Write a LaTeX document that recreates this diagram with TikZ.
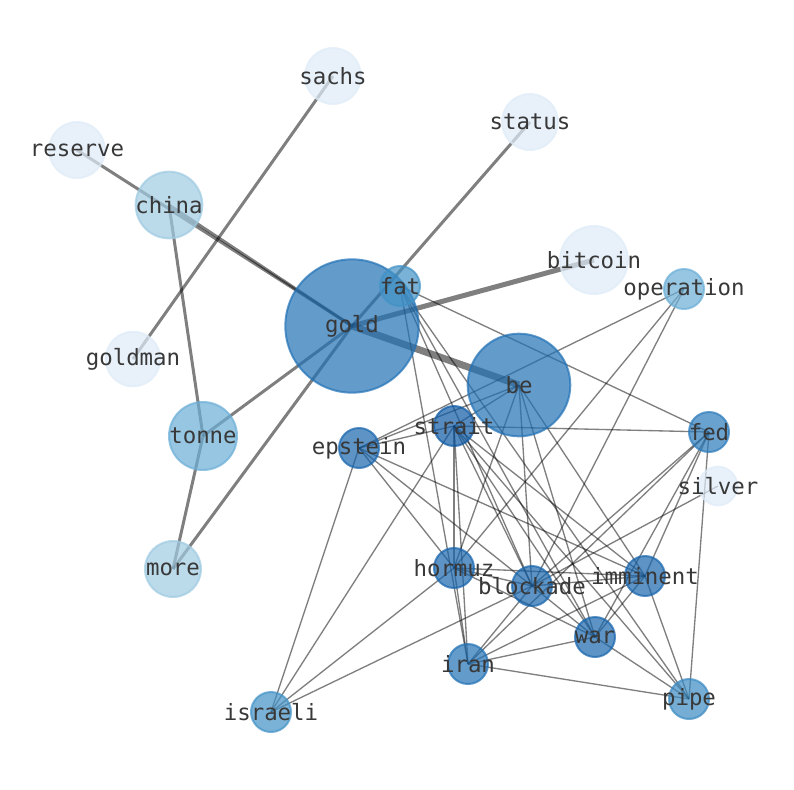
\documentclass[tikz,border=0pt]{standalone}
\usepackage{fontspec}
\setmonofont{DejaVu Sans Mono}
\usepackage{xcolor}
\usepackage{tikz}
\usetikzlibrary{backgrounds}

\definecolor{bluevl}{HTML}{DEEBF7}
\definecolor{bluel}{HTML}{9ECAE1}
\definecolor{bluem}{HTML}{6BAED6}
\definecolor{bluemd}{HTML}{4292C6}
\definecolor{bluepipe}{HTML}{3A8AC2}
\definecolor{bluefed}{HTML}{2B7BBB}
\definecolor{blued}{HTML}{2171B5}
\definecolor{bluedk}{HTML}{1865AD}
\definecolor{bluedd}{HTML}{0E5AA5}
\definecolor{labelgray}{HTML}{383838}

\begin{document}
\begin{tikzpicture}[x=0.75pt, y=-0.75pt,
    word/.style={circle, inner sep=0pt, draw=#1, fill=#1, fill opacity=0.7, draw opacity=0.7, line width=1.5pt},
    every label/.style={font=\ttfamily\fontsize{16.8}{16.8}\selectfont, text=labelgray, opacity=1, inner sep=0pt},
    tie/.style={draw=black, draw opacity=0.5, line width=1pt},
    bond/.style={draw=black, draw opacity=0.5, line width=2.25pt}]
    \useasboundingbox (0,0) rectangle (794,790);

    % outer words
    \node[word=bluevl, minimum size=42pt, label=center:sachs] (sachs) at (333,76) {};
    \node[word=bluevl, minimum size=42pt, label=center:status] (status) at (530,122) {};
    \node[word=bluevl, minimum size=42pt, label=center:reserve] (reserve) at (77,150) {};
    \node[word=bluel, minimum size=50pt, label=center:china] (china) at (169,205) {};
    \node[word=bluevl, minimum size=51pt, label=center:bitcoin] (bitcoin) at (594,260) {};
    \node[word=bluevl, minimum size=41pt, label=center:goldman] (goldman) at (133,359) {};
    \node[word=bluem, minimum size=51pt, label=center:tonne] (tonne) at (203,436) {};
    \node[word=bluel, minimum size=42pt, label=center:more] (more) at (173,569) {};
    \node[word=bluevl, minimum size=29pt, label=center:silver] (silver) at (718,486) {};

    % big words
    \node[word=blued, minimum size=100pt, label=center:gold] (gold) at (352,326) {};
    \node[word=blued, minimum size=77pt, label=center:be] (be) at (519,385) {};
    \node[word=bluemd, minimum size=30pt, label=center:fat] (fat) at (400,286) {};
    \node[word=bluem, minimum size=30pt, label=center:operation] (operation) at (684,289) {};

    % lower cluster
    \node[word=bluedd, minimum size=30pt, label=center:strait] (strait) at (454,426) {};
    \node[word=bluedk, minimum size=30pt, label=center:epstein] (epstein) at (359,448) {};
    \node[word=bluefed, minimum size=30pt, label=center:fed] (fed) at (709,432) {};
    \node[word=bluedk, minimum size=30pt, label=center:hormuz] (hormuz) at (454,568) {};
    \node[word=bluedk, minimum size=30pt, label=center:blockade] (blockade) at (532,586) {};
    \node[word=bluedk, minimum size=30pt, label=center:imminent] (imminent) at (645,576) {};
    \node[word=bluedk, minimum size=30pt, label=center:war] (war) at (595,637) {};
    \node[word=blued, minimum size=30pt, label=center:iran] (iran) at (468,664) {};
    \node[word=bluemd, minimum size=30pt, label=center:israeli] (israeli) at (271,712) {};
    \node[word=bluepipe, minimum size=30pt, label=center:pipe] (pipe) at (689,699) {};

    \begin{scope}[on background layer]
    % heavy ties
    \draw[bond] (sachs.center) -- (goldman.center);
    \draw[bond] (status.center) -- (gold.center);
    \draw[bond] (reserve.center) -- (gold.center);
    \draw[bond] (china.center) -- (gold.center);
    \draw[bond] (china.center) -- (tonne.center);
    \draw[bond] (tonne.center) -- (more.center);
    \draw[bond] (tonne.center) -- (gold.center);
    \draw[bond] (more.center) -- (gold.center);
    \draw[bond, line width=3.75pt] (gold.center) -- (bitcoin.center);
    \draw[bond, line width=5.25pt] (gold.center) -- (be.center);

    % light ties
    \draw[tie] (fat.center) -- (fed.center);
    \draw[tie] (fat.center) -- (iran.center);
    \draw[tie] (fat.center) -- (blockade.center);
    \draw[tie] (fat.center) -- (war.center);
    \draw[tie] (fat.center) -- (pipe.center);
    \draw[tie] (operation.center) -- (epstein.center);
    \draw[tie] (operation.center) -- (hormuz.center);
    \draw[tie] (operation.center) -- (blockade.center);
    \draw[tie] (be.center) -- (epstein.center);
    \draw[tie] (be.center) -- (strait.center);
    \draw[tie] (be.center) -- (hormuz.center);
    \draw[tie] (be.center) -- (blockade.center);
    \draw[tie] (be.center) -- (imminent.center);
    \draw[tie] (be.center) -- (war.center);
    \draw[tie] (epstein.center) -- (strait.center);
    \draw[tie] (epstein.center) -- (hormuz.center);
    \draw[tie] (epstein.center) -- (blockade.center);
    \draw[tie] (epstein.center) -- (imminent.center);
    \draw[tie] (epstein.center) -- (israeli.center);
    \draw[tie] (strait.center) -- (fed.center);
    \draw[tie] (strait.center) -- (hormuz.center);
    \draw[tie] (strait.center) -- (iran.center);
    \draw[tie] (strait.center) -- (blockade.center);
    \draw[tie] (strait.center) -- (war.center);
    \draw[tie] (strait.center) -- (imminent.center);
    \draw[tie] (strait.center) -- (israeli.center);
    \draw[tie] (strait.center) -- (pipe.center);
    \draw[tie] (fed.center) -- (imminent.center);
    \draw[tie] (fed.center) -- (war.center);
    \draw[tie] (fed.center) -- (blockade.center);
    \draw[tie] (fed.center) -- (iran.center);
    \draw[tie] (fed.center) -- (pipe.center);
    \draw[tie] (silver.center) -- (blockade.center);
    \draw[tie] (hormuz.center) -- (blockade.center);
    \draw[tie] (hormuz.center) -- (imminent.center);
    \draw[tie] (hormuz.center) -- (iran.center);
    \draw[tie] (hormuz.center) -- (war.center);
    \draw[tie] (hormuz.center) -- (israeli.center);
    \draw[tie] (blockade.center) -- (imminent.center);
    \draw[tie] (blockade.center) -- (war.center);
    \draw[tie] (blockade.center) -- (iran.center);
    \draw[tie] (blockade.center) -- (israeli.center);
    \draw[tie] (imminent.center) -- (war.center);
    \draw[tie] (imminent.center) -- (pipe.center);
    \draw[tie] (imminent.center) -- (iran.center);
    \draw[tie] (war.center) -- (iran.center);
    \draw[tie] (war.center) -- (pipe.center);
    \draw[tie] (iran.center) -- (pipe.center);
    \end{scope}
\end{tikzpicture}
\end{document}
